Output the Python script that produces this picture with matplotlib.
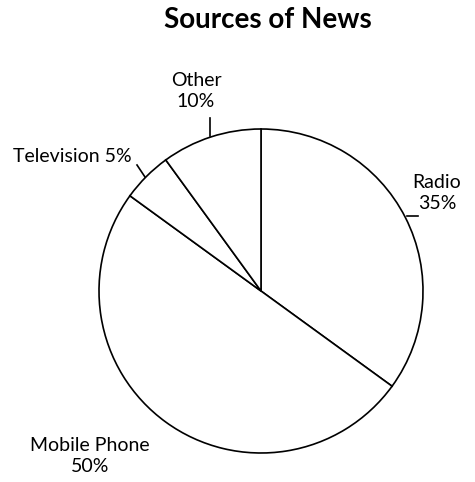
import matplotlib.pyplot as plt

# data
sources = ["Radio", "Mobile Phone", "Television", "Other"]
shares = [35, 50, 5, 10]
label_text = ["Radio\n35%", "Mobile Phone\n50%", "Television 5%", "Other\n10%"]

plt.rcParams['font.family'] = ['Lato', 'DejaVu Sans']

fig = plt.figure(figsize=(4.75, 4.82), dpi=100)
ax = fig.add_axes([0, 0, 1, 1])

# pie in pixel-like coordinates (y pointing down)
ax.pie(shares, center=(261, 291), radius=162, startangle=-90, counterclock=True,
       frame=True,
       wedgeprops=dict(facecolor='white', edgecolor='black', linewidth=1.2))

ax.set_xlim(0, 475)
ax.set_ylim(482, 0)
ax.set_aspect('equal')
ax.axis('off')

# labels
pos = [(437, 193), (90, 456), (72, 157), (196, 91)]
for txt, (x, y) in zip(label_text, pos):
    ax.text(x, y, txt, ha='center', va='center', fontsize=14, linespacing=1.3)

# leader lines
ax.plot([407, 418], [216, 216], color='black', lw=1.2)
ax.plot([137, 145], [165, 177], color='black', lw=1.2)
ax.plot([210, 210], [118, 136], color='black', lw=1.2)

ax.text(268, 20, "Sources of News", ha='center', va='center',
        fontsize=20, fontweight='bold')

fig.savefig("out.png", dpi=100)
